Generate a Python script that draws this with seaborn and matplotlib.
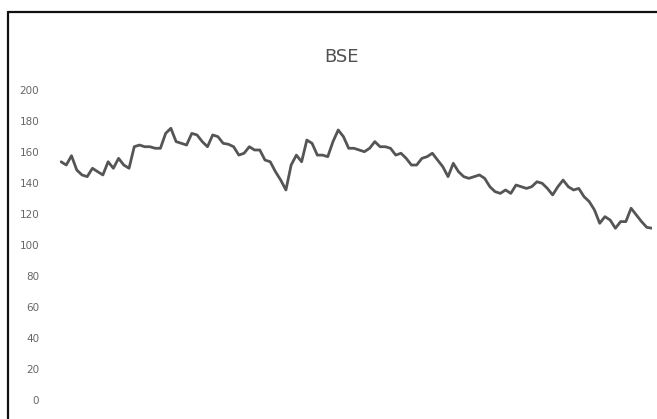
import numpy as np
import pandas as pd
import matplotlib
matplotlib.use("Agg")
import matplotlib.pyplot as plt
import seaborn as sns
from matplotlib.lines import Line2D

bse_values = [
    153.7, 151.6, 157.6, 148.4, 145.2, 144.1, 149.5, 147.3, 145.2, 153.7,
    149.5, 155.9, 151.6, 149.5, 163.4, 164.5, 163.4, 163.4, 162.4, 162.4,
    172.0, 175.3, 166.7, 165.6, 164.5, 172.0, 171.0, 166.7, 163.4, 171.0,
    169.9, 165.6, 165.0, 163.4, 158.0, 159.2, 163.4, 161.3, 161.3, 154.8,
    153.7, 147.3, 141.9, 135.5, 151.6, 158.0, 153.7, 167.7, 165.6, 158.0,
    158.0, 157.0, 166.7, 174.2, 169.9, 162.4, 162.4, 161.3, 160.2, 162.4,
    166.7, 163.4, 163.4, 162.4, 158.0, 159.2, 155.9, 151.6, 151.6, 155.9,
    157.0, 159.2, 154.8, 150.5, 144.1, 152.7, 147.3, 144.1, 143.0, 144.1,
    145.2, 143.0, 137.6, 134.4, 133.3, 135.5, 133.3, 138.7, 137.6, 136.5,
    137.6, 140.8, 139.8, 136.5, 132.3, 137.6, 141.9, 137.6, 135.5, 136.5,
    131.2, 128.0, 122.6, 114.0, 118.3, 116.1, 110.8, 115.1, 115.1, 123.7,
    119.4, 115.1, 111.4, 110.8,
]
y_ticks = [0, 20, 40, 60, 80, 100, 120, 140, 160, 180, 200]
chart_title = "BSE"

df = pd.DataFrame({"t": np.arange(len(bse_values)), "value": bse_values})

sns.set_theme(style="white")
plt.rcParams["font.family"] = ["DejaVu Sans"]

fig = plt.figure(figsize=(6.57, 4.19), dpi=100)
ax = fig.add_axes([60 / 657, (419 - 400) / 419, (652 - 60) / 657, (400 - 90) / 419])

sns.lineplot(data=df, x="t", y="value", ax=ax, color="#555555", linewidth=2.0)

ax.set_ylim(0, 200)
ax.set_xlim(df["t"].min() - 0.2, df["t"].max())
ax.set_yticks(y_ticks)
ax.set_yticklabels([str(v) for v in y_ticks], fontsize=7.5, color="#666666")
ax.tick_params(axis="y", length=0, pad=15)
ax.set_xticks([])
ax.set_xlabel("")
ax.set_ylabel("")
for s in ax.spines.values():
    s.set_visible(False)
ax.patch.set_alpha(0)

fig.text(342 / 657, 1 - 57 / 419, chart_title, ha="center", va="center",
         fontsize=13, color="#505050")

# outer frame (left and top edges)
fig.add_artist(Line2D([7.5 / 657, 7.5 / 657], [0, 1 - 12 / 419], transform=fig.transFigure,
                      color="#111111", linewidth=1.6))
fig.add_artist(Line2D([7.5 / 657, 1], [1 - 12 / 419, 1 - 12 / 419], transform=fig.transFigure,
                      color="#111111", linewidth=1.6))

fig.savefig("out.png", dpi=100)
